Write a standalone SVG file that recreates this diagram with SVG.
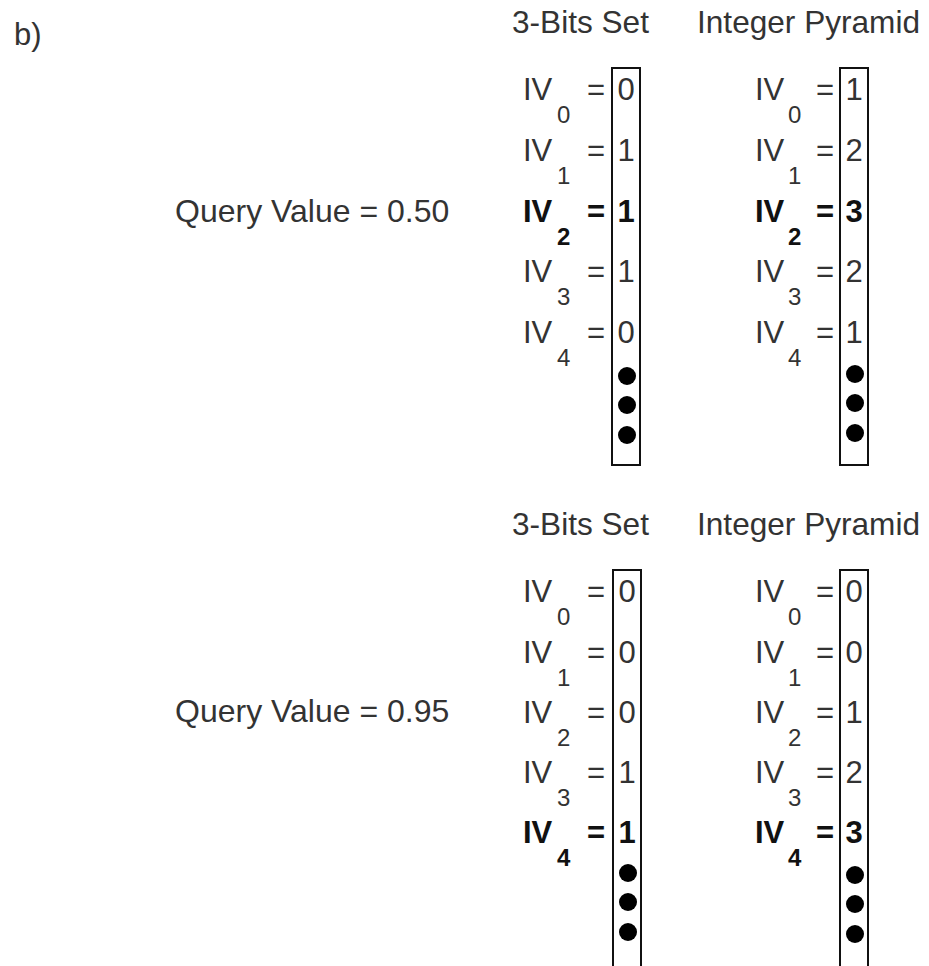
<svg xmlns="http://www.w3.org/2000/svg" width="929" height="966" viewBox="0 0 929 966">
<style>
text{font-family:"Liberation Sans",Arial,sans-serif;fill:#333}
.t{font-size:31px}
.h{font-size:31.6px}
.q{font-size:32px}
.s{font-size:24px}
.b{font-weight:bold;fill:#111}
.eq{text-anchor:middle}
.v{text-anchor:middle}
.box{fill:none;stroke:#111;stroke-width:2}
.dot{fill:#000}
</style>
<rect width="929" height="966" fill="#fff"/>
<text id="label-b" class="t" x="14" y="45">b)</text>

<g id="top">
  <text class="q" x="175" y="222">Query Value = 0.50</text>
  <text class="h" x="512" y="33">3-Bits Set</text>
  <text class="h" x="697" y="33">Integer Pyramid</text>
  <g id="top-bits">
    <rect class="box" x="612" y="68" width="28" height="397"/>
    <text class="t" x="523" y="100">IV</text><text class="s" x="557" y="123">0</text><text class="t eq" x="596" y="100">=</text><text class="t v" x="626" y="100">0</text>
    <text class="t" x="523" y="161">IV</text><text class="s" x="557" y="184">1</text><text class="t eq" x="596" y="161">=</text><text class="t v" x="626" y="161">1</text>
    <text class="t b" x="523" y="222">IV</text><text class="s b" x="557" y="245">2</text><text class="t b eq" x="596" y="222">=</text><text class="t b v" x="626" y="222">1</text>
    <text class="t" x="523" y="282">IV</text><text class="s" x="557" y="305">3</text><text class="t eq" x="596" y="282">=</text><text class="t v" x="626" y="282">1</text>
    <text class="t" x="523" y="343">IV</text><text class="s" x="557" y="366">4</text><text class="t eq" x="596" y="343">=</text><text class="t v" x="626" y="343">0</text>
    <circle class="dot" cx="627" cy="376" r="9"/><circle class="dot" cx="627" cy="405" r="9"/><circle class="dot" cx="627" cy="435" r="9"/>
  </g>
  <g id="top-pyramid">
    <rect class="box" x="840" y="68" width="28" height="397"/>
    <text class="t" x="755" y="100">IV</text><text class="s" x="788" y="123">0</text><text class="t eq" x="825" y="100">=</text><text class="t v" x="854" y="100">1</text>
    <text class="t" x="755" y="161">IV</text><text class="s" x="788" y="184">1</text><text class="t eq" x="825" y="161">=</text><text class="t v" x="854" y="161">2</text>
    <text class="t b" x="755" y="222">IV</text><text class="s b" x="788" y="245">2</text><text class="t b eq" x="825" y="222">=</text><text class="t b v" x="854" y="222">3</text>
    <text class="t" x="755" y="282">IV</text><text class="s" x="788" y="305">3</text><text class="t eq" x="825" y="282">=</text><text class="t v" x="854" y="282">2</text>
    <text class="t" x="755" y="343">IV</text><text class="s" x="788" y="366">4</text><text class="t eq" x="825" y="343">=</text><text class="t v" x="854" y="343">1</text>
    <circle class="dot" cx="855" cy="374" r="9"/><circle class="dot" cx="855" cy="403" r="9"/><circle class="dot" cx="855" cy="433" r="9"/>
  </g>
</g>

<g id="bottom">
  <text class="q" x="175" y="722">Query Value = 0.95</text>
  <text class="h" x="512" y="535">3-Bits Set</text>
  <text class="h" x="697" y="535">Integer Pyramid</text>
  <g id="bottom-bits">
    <path class="box" d="M613,980 V570 H641 V980"/>
    <text class="t" x="523" y="602">IV</text><text class="s" x="557" y="625">0</text><text class="t eq" x="596" y="602">=</text><text class="t v" x="627" y="602">0</text>
    <text class="t" x="523" y="663">IV</text><text class="s" x="557" y="686">1</text><text class="t eq" x="596" y="663">=</text><text class="t v" x="627" y="663">0</text>
    <text class="t" x="523" y="723">IV</text><text class="s" x="557" y="746">2</text><text class="t eq" x="596" y="723">=</text><text class="t v" x="627" y="723">0</text>
    <text class="t" x="523" y="783">IV</text><text class="s" x="557" y="806">3</text><text class="t eq" x="596" y="783">=</text><text class="t v" x="627" y="783">1</text>
    <text class="t b" x="523" y="843">IV</text><text class="s b" x="557" y="866">4</text><text class="t b eq" x="596" y="843">=</text><text class="t b v" x="627" y="843">1</text>
    <circle class="dot" cx="628" cy="873" r="9"/><circle class="dot" cx="628" cy="902" r="9"/><circle class="dot" cx="628" cy="932" r="9"/>
  </g>
  <g id="bottom-pyramid">
    <path class="box" d="M840,980 V570 H868 V980"/>
    <text class="t" x="755" y="602">IV</text><text class="s" x="788" y="625">0</text><text class="t eq" x="825" y="602">=</text><text class="t v" x="854" y="602">0</text>
    <text class="t" x="755" y="663">IV</text><text class="s" x="788" y="686">1</text><text class="t eq" x="825" y="663">=</text><text class="t v" x="854" y="663">0</text>
    <text class="t" x="755" y="723">IV</text><text class="s" x="788" y="746">2</text><text class="t eq" x="825" y="723">=</text><text class="t v" x="854" y="723">1</text>
    <text class="t" x="755" y="783">IV</text><text class="s" x="788" y="806">3</text><text class="t eq" x="825" y="783">=</text><text class="t v" x="854" y="783">2</text>
    <text class="t b" x="755" y="843">IV</text><text class="s b" x="788" y="866">4</text><text class="t b eq" x="825" y="843">=</text><text class="t b v" x="854" y="843">3</text>
    <circle class="dot" cx="855" cy="875" r="9"/><circle class="dot" cx="855" cy="904" r="9"/><circle class="dot" cx="855" cy="934" r="9"/>
  </g>
</g>
<g id="connectors"/>
</svg>
